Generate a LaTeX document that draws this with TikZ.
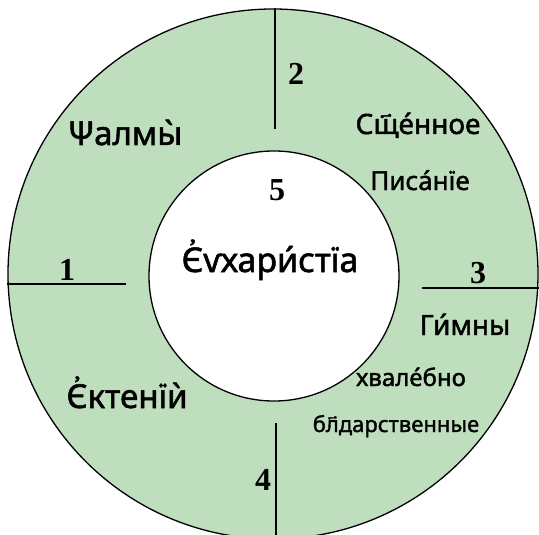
\documentclass[tikz,border=0pt]{standalone}
\usepackage{fontspec}
\usepackage{xcolor,tikz}
\newfontfamily\slavfont[FakeBold=1.6]{Noto Sans}
\newfontfamily\numfont{Liberation Serif}
\definecolor{ringgreen}{RGB}{190,222,190}

\begin{document}
\begin{tikzpicture}[x=1pt,y=-1pt,
  every node/.style={inner sep=0pt},
  slav/.style={font=\slavfont\fontsize{28}{32}\selectfont,anchor=base},
  slavsmall/.style={font=\slavfont\fontsize{22}{26}\selectfont,anchor=base},
  num/.style={font=\numfont\bfseries\fontsize{32}{36}\selectfont}]
\useasboundingbox (0,0) rectangle (539,535);
\fill[white] (0,0) rectangle (539,535);
\clip (0,0) rectangle (539,535);
% ring and centre
\fill[ringgreen] (273,274) circle (265);
\fill[white] (274,276) circle (125);
% dividers
\draw[line width=1.3pt] (275,8) -- (275,129);
\draw[line width=1.3pt] (7,284) -- (126,284);
\draw[line width=1.3pt] (422,288) -- (540,288);
\draw[line width=1.3pt] (276,423) -- (276,540);
\draw[line width=1.3pt] (273,274) circle (265);
\draw[line width=1.3pt] (274,276) circle (125);
% numbers
\node[num] (n1) at (67,270) {1};
\node[num] (n2) at (296,74) {2};
\node[num] (n3) at (478,273) {3};
\node[num] (n4) at (263,480) {4};
\node[num] (n5) at (277,190) {5};
% texts
\node[slav,font=\slavfont\fontsize{33}{36}\selectfont] (psalmy) at (125,145) {Ѱалмы̀};
\node[slav] (scripture) at (418,134) {Сщ҃е́нное};
\node[slav,font=\slavfont\fontsize{26}{30}\selectfont] (scripture2) at (420,190) {Писа́нїе};
\node[slav,font=\slavfont\fontsize{34}{38}\selectfont] (eucharist) at (270,272) {Є҆ѵхари́стїа};
\node[slav] (hymns) at (465,335) {Ги́мны};
\node[slavsmall,font=\slavfont\fontsize{24}{28}\selectfont] (hymns2) at (411,386) {хвале́бно};
\node[slavsmall] (hymns3) at (396,432) {бл҃дарственные};
\node[slav,font=\slavfont\fontsize{33}{36}\selectfont] (litany) at (127,408) {Є҆ктенїѝ};
\end{tikzpicture}
\end{document}
